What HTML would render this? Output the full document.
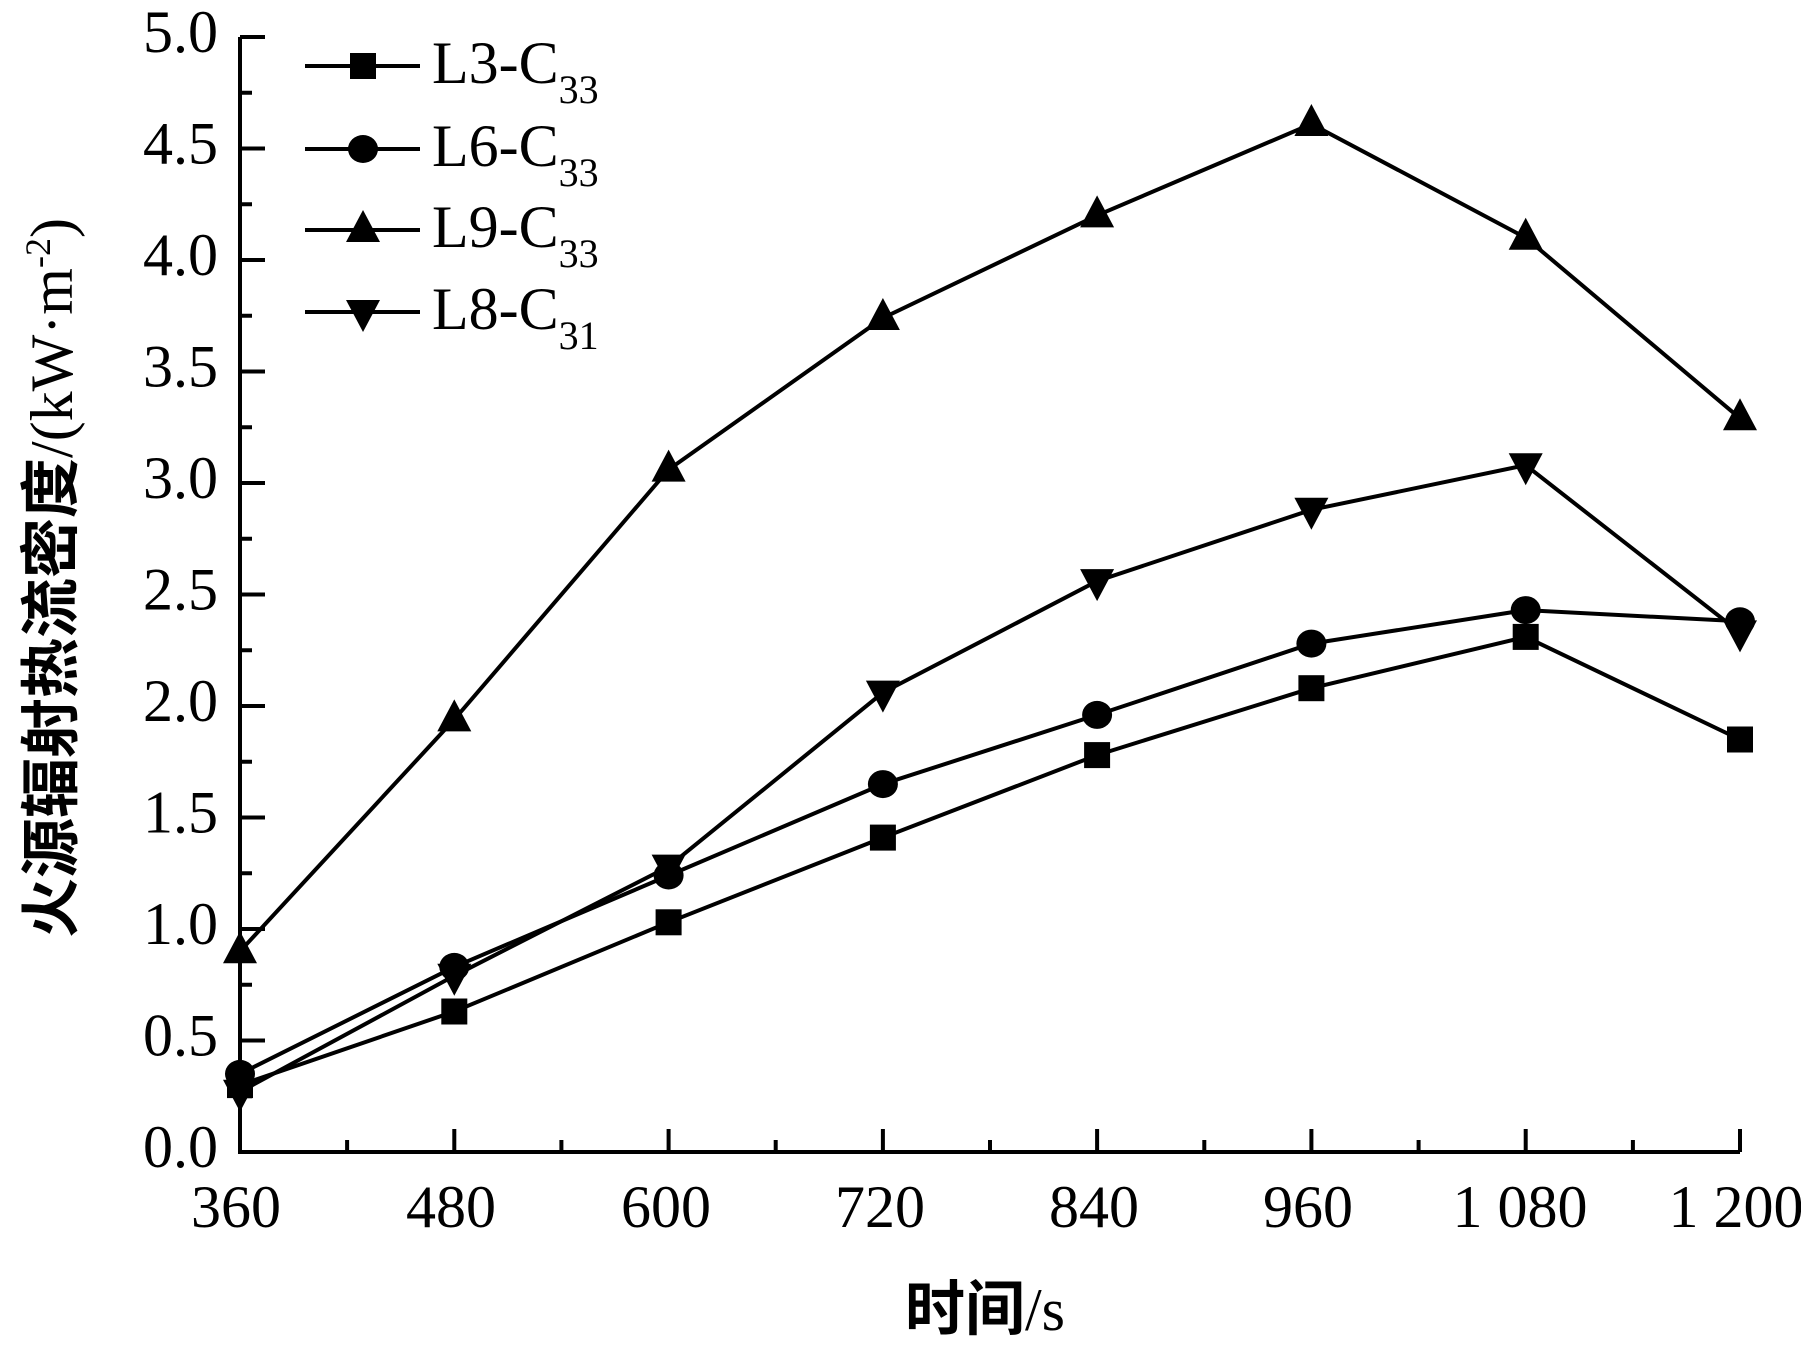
<!DOCTYPE html>
<html><head><meta charset="utf-8"><style>body{margin:0;background:#fff}svg{display:block}</style></head><body>
<svg width="1801" height="1346" viewBox="0 0 1801 1346" xmlns="http://www.w3.org/2000/svg" font-family="'Liberation Serif','Noto Serif CJK SC',serif">
<defs>
<rect id="sq" x="-13" y="-13" width="26" height="26" fill="#000"/>
<ellipse id="ci" rx="15" ry="14" fill="#000"/>
<polygon id="tu" points="0,-20 -17,12 17,12" fill="#000"/>
<polygon id="td" points="0,20 -17,-12 17,-12" fill="#000"/>
</defs>
<g stroke="#000" stroke-width="4" fill="none">
<path d="M240,37 V1152 H1740"/>
<path d="M240,37h25M240,148.5h25M240,260h25M240,371.5h25M240,483h25M240,594.5h25M240,706h25M240,817.5h25M240,929h25M240,1040.5h25"/>
<path d="M240,92.75h12M240,204.25h12M240,315.75h12M240,427.25h12M240,538.75h12M240,650.25h12M240,761.75h12M240,873.25h12M240,984.75h12M240,1096.25h12"/>
<path d="M454.3,1152v-23M668.6,1152v-23M882.9,1152v-23M1097.1,1152v-23M1311.4,1152v-23M1525.7,1152v-23M1740,1152v-23"/>
<path d="M347.1,1152v-12M561.4,1152v-12M775.7,1152v-12M990,1152v-12M1204.3,1152v-12M1418.6,1152v-12M1632.9,1152v-12"/>
<polyline points="240,1085.1 454.3,1011.5 668.6,922.3 882.9,837.6 1097.1,755.1 1311.4,688.2 1525.7,636.9 1740,739.5"/>
<polyline points="240,1073.9 454.3,966.9 668.6,875.5 882.9,784.1 1097.1,714.9 1311.4,643.6 1525.7,610.1 1740,621.3"/>
<polyline points="240,951.3 454.3,719.4 668.6,469.6 882.9,318 1097.1,215.4 1311.4,124 1525.7,237.7 1740,418.3"/>
<polyline points="240,1091.8 454.3,975.8 668.6,866.6 882.9,692.6 1097.1,581.1 1311.4,509.8 1525.7,465.2 1740,632.4"/>
<path d="M305,66H420M305,149H420M305,230H420M305,312H420"/>
</g>
<g>
<use href="#sq" x="240" y="1085.1"/><use href="#sq" x="454.3" y="1011.5"/><use href="#sq" x="668.6" y="922.3"/><use href="#sq" x="882.9" y="837.6"/><use href="#sq" x="1097.1" y="755.1"/><use href="#sq" x="1311.4" y="688.2"/><use href="#sq" x="1525.7" y="636.9"/><use href="#sq" x="1740" y="739.5"/>
<use href="#ci" x="240" y="1073.9"/><use href="#ci" x="454.3" y="966.9"/><use href="#ci" x="668.6" y="875.5"/><use href="#ci" x="882.9" y="784.1"/><use href="#ci" x="1097.1" y="714.9"/><use href="#ci" x="1311.4" y="643.6"/><use href="#ci" x="1525.7" y="610.1"/><use href="#ci" x="1740" y="621.3"/>
<use href="#tu" x="240" y="951.3"/><use href="#tu" x="454.3" y="719.4"/><use href="#tu" x="668.6" y="469.6"/><use href="#tu" x="882.9" y="318"/><use href="#tu" x="1097.1" y="215.4"/><use href="#tu" x="1311.4" y="124"/><use href="#tu" x="1525.7" y="237.7"/><use href="#tu" x="1740" y="418.3"/>
<use href="#td" x="240" y="1091.8"/><use href="#td" x="454.3" y="975.8"/><use href="#td" x="668.6" y="866.6"/><use href="#td" x="882.9" y="692.6"/><use href="#td" x="1097.1" y="581.1"/><use href="#td" x="1311.4" y="509.8"/><use href="#td" x="1525.7" y="465.2"/><use href="#td" x="1740" y="632.4"/>
<use href="#sq" x="363" y="66"/><use href="#ci" x="363" y="149"/><use href="#tu" x="363" y="230"/><use href="#td" x="363" y="312"/>
</g>
<g font-size="60" fill="#000">
<g text-anchor="end">
<text x="218" y="52">5.0</text><text x="218" y="163.5">4.5</text><text x="218" y="275">4.0</text><text x="218" y="386.5">3.5</text><text x="218" y="498">3.0</text><text x="218" y="609.5">2.5</text><text x="218" y="721">2.0</text><text x="218" y="832.5">1.5</text><text x="218" y="944">1.0</text><text x="218" y="1055.5">0.5</text><text x="218" y="1167">0.0</text>
</g>
<g text-anchor="middle">
<text x="236" y="1227">360</text><text x="451" y="1227">480</text><text x="666" y="1227">600</text><text x="880" y="1227">720</text><text x="1094" y="1227">840</text><text x="1308" y="1227">960</text><text x="1520" y="1227">1 080</text><text x="1736" y="1227">1 200</text>
<text x="985" y="1330"><tspan font-family="'Noto Sans CJK SC',sans-serif" font-weight="bold">时间</tspan>/s</text>
<text transform="translate(72,578) rotate(-90)"><tspan font-family="'Noto Sans CJK SC',sans-serif" font-weight="bold">火源辐射热流密度</tspan>/(kW·m<tspan font-size="36" dy="-22">-2</tspan><tspan dy="22">)</tspan></text>
</g>
<text x="432" y="83">L3-C<tspan font-size="40" dy="20">33</tspan></text>
<text x="432" y="166">L6-C<tspan font-size="40" dy="20">33</tspan></text>
<text x="432" y="247">L9-C<tspan font-size="40" dy="20">33</tspan></text>
<text x="432" y="329">L8-C<tspan font-size="40" dy="20">31</tspan></text>
</g>
</svg>
</body></html>
